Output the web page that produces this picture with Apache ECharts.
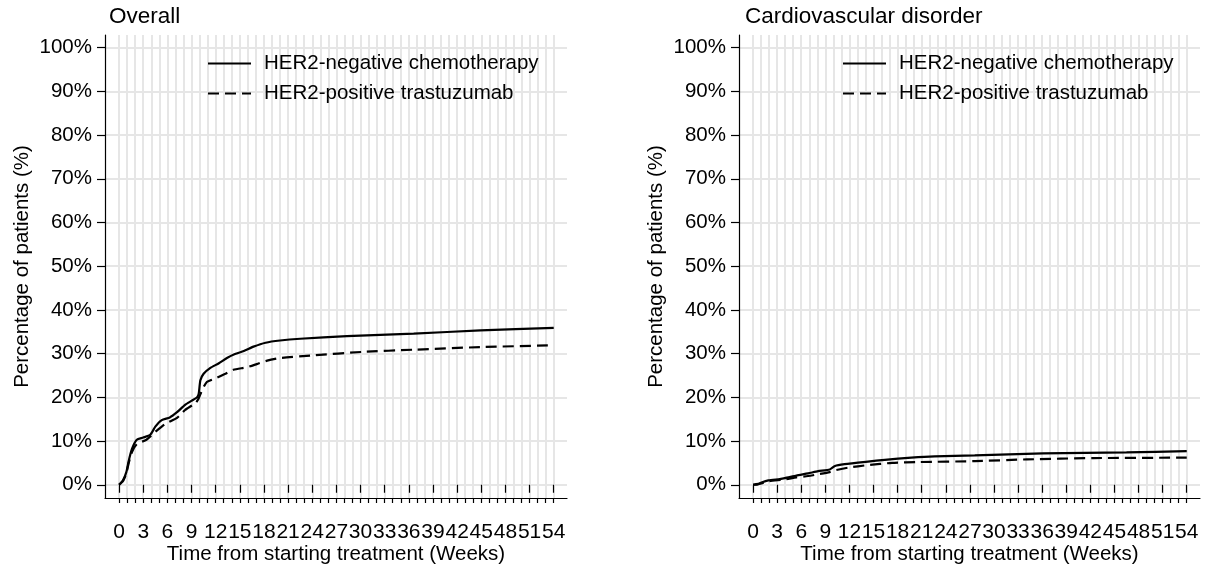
<!DOCTYPE html>
<html>
<head>
<meta charset="utf-8">
<script src="https://cdn.jsdelivr.net/npm/echarts@6/dist/echarts.min.js"></script>
<style>
html,body{margin:0;padding:0;background:#fff;}
#c{width:1210px;height:570px;}
</style>
</head>
<body>
<div id="c"></div>
<script>
// ---- data (weeks, cumulative % of patients) ----
const seriesNames = ['HER2-negative chemotherapy', 'HER2-positive trastuzumab'];
const panelTitles = ['Overall', 'Cardiovascular disorder'];

const overallNegWeeks = [0,0.5,0.9,1.2,1.6,2.2,3.0,3.9,4.5,5.3,6.3,7.2,8.2,9.0,9.7,9.9,10.1,10.5,11.3,12.4,13.4,14.4,15.5,16.7,18.2,20,22.5,28.3,36.6,44.9,54];
const overallNegPct   = [0,1.1,2.9,5.5,8.2,10.3,10.8,11.5,13.3,14.8,15.4,16.6,18.3,19.2,20,20.9,23.9,25.4,26.7,27.8,29,29.9,30.6,31.6,32.5,33.0,33.4,34.0,34.6,35.3,35.9];

const overallPosWeeks = [0,0.5,0.9,1.2,1.6,2.2,3.4,4.5,5.7,7.2,8.2,9.5,9.9,10.3,10.9,11.9,13.2,14.2,15.9,17.1,18.4,20.0,24.1,30.3,36.6,44.9,54];
const overallPosPct   = [0,0.9,2.6,5.0,7.5,9.3,10.3,12.1,13.9,15.3,17.1,18.7,19.8,21.6,23.5,24.3,25.4,26.3,26.9,27.6,28.4,29.0,29.6,30.4,30.9,31.5,31.9];

const cardioNegWeeks = [0,0.6,1.05,1.9,3.3,3.95,5.4,6.85,8.1,9.55,10.2,11.4,14.3,16.4,19.7,22.6,27.6,36.1,46.5,54];
const cardioNegPct   = [0,0.1,0.5,1.0,1.3,1.5,2.1,2.6,3.1,3.5,4.3,4.7,5.3,5.7,6.2,6.5,6.7,7.2,7.4,7.7];

const cardioPosWeeks = [0,1.05,1.9,3.95,5.4,6.85,8.1,9.55,10.2,11.8,14.3,17.3,20.6,27.6,34.1,42.4,54];
const cardioPosPct   = [0,0.3,0.8,1.2,1.7,2.0,2.4,2.9,3.3,3.9,4.5,5.0,5.2,5.4,5.8,6.1,6.2];

const weekTicks = [];   for (let w = 0; w <= 54; w++) weekTicks.push(w);
const weekLabels = [];  for (let w = 0; w <= 54; w += 3) weekLabels.push(w);
const pctTicks = [0,10,20,30,40,50,60,70,80,90,100];

const xAxisName = 'Time from starting treatment (Weeks)';
const yAxisName = 'Percentage of patients (%)';

function pairs(xs, ys) { return xs.map((x, i) => [x, ys[i]]); }

// ---- layout ----
const FONT = 'Liberation Sans, Arial, sans-serif';
const TXT = '#000';
const grids = [
  { left: 105, top: 35, width: 462, height: 471.5 },
  { left: 739, top: 35, width: 461, height: 471.5 }
];

const xAxes = [], yAxes = [], series = [], titles = [], legends = [];
grids.forEach((g, i) => {
  // weekly ticks + vertical grid lines + axis line
  xAxes.push({
    type: 'value', gridIndex: i, position: 'bottom', min: -1.75, max: 55.65,
    name: xAxisName, nameLocation: 'middle', nameGap: 46,
    nameTextStyle: { fontFamily: FONT, fontSize: 20.5, color: TXT },
    axisLine: { show: true, onZero: false, lineStyle: { color: '#000', width: 1.2 } },
    axisTick: { show: true, customValues: weekTicks, length: 5, lineStyle: { color: '#000', width: 1.2 } },
    axisLabel: { show: false },
    splitLine: { show: true, lineStyle: { color: '#e6e6e6', width: 2 } }
  });
  // longer ticks + labels every 3 weeks
  xAxes.push({
    type: 'value', gridIndex: i, position: 'bottom', min: -1.75, max: 55.65,
    axisLine: { show: false },
    axisTick: { show: true, customValues: weekLabels, length: 8, lineStyle: { color: '#000', width: 1.2 } },
    axisLabel: { show: true, customValues: weekLabels, margin: 24, fontFamily: FONT, fontSize: 21, color: TXT, hideOverlap: false },
    splitLine: { show: false }
  });
  yAxes.push({
    type: 'value', gridIndex: i, min: -3.03, max: 102.9,
    name: yAxisName, nameLocation: 'middle', nameGap: 72, nameRotate: 90,
    nameTextStyle: { fontFamily: FONT, fontSize: 20.5, color: TXT },
    axisLine: { show: true, onZero: false, lineStyle: { color: '#000', width: 1.2 } },
    axisTick: { show: true, customValues: pctTicks, length: 8, lineStyle: { color: '#000', width: 1.2 } },
    axisLabel: { show: true, customValues: pctTicks, margin: 13, fontFamily: FONT, fontSize: 20.5, color: TXT,
                 formatter: v => v + '%' },
    splitLine: { show: true, lineStyle: { color: '#e6e6e6', width: 2 } }
  });
  titles.push({
    text: panelTitles[i], left: i === 0 ? 109 : 745, top: 5, padding: 0,
    textStyle: { fontFamily: FONT, fontSize: 22.5, fontWeight: 'normal', color: TXT }
  });
  legends.push({
    data: seriesNames, orient: 'vertical', left: i === 0 ? 207 : 842, top: 53, padding: 0,
    itemWidth: 43, itemHeight: 14, itemGap: 9, selectedMode: false,
    itemStyle: { color: 'rgba(0,0,0,0)', borderWidth: 0, opacity: 0 },
    textStyle: { fontFamily: FONT, fontSize: 20.5, color: TXT, lineHeight: 20, padding: [0, 0, 0, 8] }
  });
});

const panelData = [
  [pairs(overallNegWeeks, overallNegPct), pairs(overallPosWeeks, overallPosPct)],
  [pairs(cardioNegWeeks, cardioNegPct), pairs(cardioPosWeeks, cardioPosPct)]
];
panelData.forEach((pd, i) => {
  pd.forEach((d, k) => {
    series.push({
      type: 'line', name: seriesNames[k], xAxisIndex: i * 2, yAxisIndex: i,
      data: d, symbol: 'none', showSymbol: false, smooth: 0.2, animation: false,
      lineStyle: { color: '#000', width: 2.2, type: k === 0 ? 'solid' : [11, 6] },
      itemStyle: { color: '#000' }
    });
  });
});

const chart = echarts.init(document.getElementById('c'), null, { renderer: 'canvas' });
chart.setOption({
  backgroundColor: '#fff',
  animation: false,
  title: titles,
  legend: legends,
  grid: grids,
  xAxis: xAxes,
  yAxis: yAxes,
  series: series
});
</script>
</body>
</html>
